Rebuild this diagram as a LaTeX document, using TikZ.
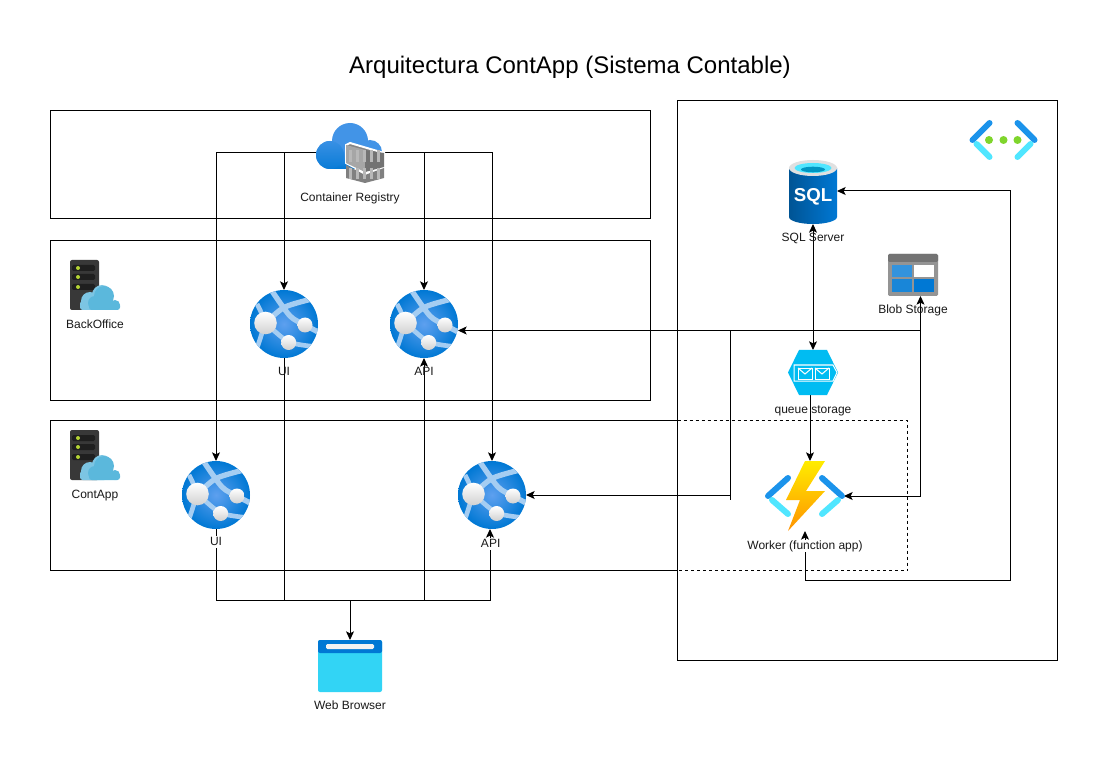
\documentclass[tikz,border=0pt]{standalone}
\usepackage{fontspec}
\setmainfont{Liberation Sans}
\usetikzlibrary{arrows.meta, positioning, backgrounds, calc}
\definecolor{azBlue}{HTML}{0078D4}
\definecolor{azMid}{HTML}{5EA0EF}
\definecolor{azSwoosh}{HTML}{A5CDF2}
\definecolor{azSky}{HTML}{1B93EB}
\definecolor{azCyan}{HTML}{50E6FF}
\definecolor{azLime}{HTML}{B4D334}
\definecolor{azGreen}{HTML}{7FD52C}
\definecolor{azQueue}{HTML}{00BCF2}
\definecolor{azBrowser}{HTML}{32D4F5}
\definecolor{azCloud}{HTML}{5BB8DC}
\definecolor{azCloudLight}{HTML}{7CC5E3}
\tikzset{
    % Frames and text
    groupbox/.style = {draw=black, line width=0.75pt, anchor=north west, inner sep=0pt, outer sep=0pt},
    caption/.style  = {font=\fontsize{9}{11}\selectfont, text=black!90, inner sep=0pt, text height=7pt, text depth=2pt},
    capfill/.style  = {caption, fill=white},
    titletext/.style = {font=\fontsize{18}{22}\selectfont, inner sep=0pt},
    % Icon places
    webicon/.style   = {minimum size=51pt, inner sep=0pt, outer sep=0pt},
    iconplace/.style 2 args = {minimum width=#1*0.75pt, minimum height=#2*0.75pt, inner sep=0pt, outer sep=0pt},
    % Edges
    wire/.style = {line width=0.75pt},
    arrow/.style = {wire, ->, >={Stealth[length=6.5pt,width=6pt,inset=1.5pt]}},
    biarrow/.style = {wire, <->, >={Stealth[length=6.5pt,width=6pt,inset=1.5pt]}},
    dashwire/.style = {wire, dash pattern=on 2.25pt off 2.25pt},
    % Icons
    pics/webapp/.style = {code={
        \shade[inner color=azMid, outer color=azBlue] (0,0) circle (34);
        \begin{scope}
            \clip (0,0) circle (34);
            \draw[azSwoosh, line width=4pt] plot[smooth] coordinates {(-12,-33) (6,-8) (21,1) (36,9)};
            \draw[azSwoosh, line width=4pt] plot[smooth] coordinates {(-18,-1) (1,-17) (36,-27)};
            \draw[azSwoosh, line width=3.5pt] plot[smooth] coordinates {(-27,-20) (-20,-1) (-28,27)};
            \draw[azSwoosh, line width=3.5pt] plot[smooth] coordinates {(-18,-1) (5,18) (36,23)};
        \end{scope}
        \shade[top color=white, middle color=white, bottom color=black!18] (-18.5,-1) circle (11.3);
        \shade[top color=white, middle color=white, bottom color=black!18] (21,1) circle (7.5);
        \shade[top color=white, middle color=white, bottom color=black!18] (4.7,18.5) circle (7.5);
    }},
    pics/brackets/.style n args = {3}{code={
        \draw[azSky, line width=4.5pt, line cap=round] (-#1,0) -- (-#2,-#3);
        \draw[azSky, line width=4.5pt, line cap=round] (#1,0) -- (#2,-#3);
        \draw[azCyan, line width=4.5pt, line cap=round] (-#1+4,4) -- (-#2,#3);
        \draw[azCyan, line width=4.5pt, line cap=round] (#1-4,4) -- (#2,#3);
    }},
    pics/server/.style = {code={
        \fill[black!78, rounded corners=1.5pt] (-25,-25) rectangle (4,25);
        \foreach \slot in {-17,-8,2} {
            \fill[black!88, rounded corners=1pt] (-23,\slot-3) rectangle (0,\slot+3);
            \fill[azLime] (-17,\slot) circle (2);
        }
        \fill[azCloudLight] (-5,16) circle (9) (7,10) circle (10);
        \fill[azCloudLight, rounded corners=2pt] (-15,25) rectangle (12,16);
        \fill[azCloud] (0,18) circle (7) (9,11) circle (10) (20,20) circle (5);
        \fill[azCloud, rounded corners=2pt] (-6,25) rectangle (25,18);
    }},
    pics/registry/.style = {code={
        \fill[azMid!70!azBlue] (-20,2) circle (14) (0,-12) circle (18) (20,-1) circle (12);
        \shade[top color=azMid!70!azBlue, bottom color=azBlue] (-20,-3) rectangle (22,16);
        \shade[top color=azMid!60!azBlue, bottom color=azBlue!90!azMid] (-20,2) circle (14);
        \filldraw[draw=white, line width=1.5pt, fill=black!48] (-4,-8) -- (0,-10) -- (34,0) -- (34,14) -- (15,20) -- (-4,10) -- cycle;
        \fill[black!50] (-4,12) -- (15,22) -- (34,15) -- (34,25) -- (15,30) -- (-4,25) -- cycle;
        \fill[black!35] (-4,-8) -- (15,-3) -- (15,19) -- (-4,10) -- cycle;
        \fill[black!55] (15,-3) -- (34,0) -- (34,14) -- (15,19) -- cycle;
        \foreach \slat in {-1,6,13,20,27} {
            \fill[black!28] (\slat,-3) rectangle (\slat+3,9);
            \fill[black!28] (\slat,15) rectangle (\slat+3,26);
        }
    }},
    pics/sqlcan/.style = {code={
        \shade[left color=azBlue!70!black, middle color=azBlue, right color=azBlue] (-24,-23) -- (-24,26) arc[start angle=180, end angle=0, x radius=24, y radius=7] -- (24,-23) -- cycle;
        \fill[black!12] (0,-23) ellipse (24 and 8);
        \fill[azCyan] (0,-23) ellipse (18.5 and 5);
        \fill[azQueue!80!black] (0,-21.5) ellipse (12 and 2.8);
        \node (sqlGlyph) [text=white, inner sep=0pt, font=\fontsize{14}{16}\selectfont\bfseries] at (0,6) {SQL};
    }},
    pics/blobgrid/.style = {code={
        \fill[black!42, rounded corners=1pt] (-25,-21) rectangle (25,21);
        \fill[black!55, rounded corners=1pt] (-25,-21) rectangle (25,-13);
        \fill[azBlue!80!white] (-21,-10) rectangle (-1,2);
        \fill[white] (1,-10) rectangle (21,2);
        \fill[azBlue!90!white] (-21,4) rectangle (-1,17);
        \fill[azBlue] (1,4) rectangle (21,17);
    }},
    pics/queuehex/.style = {code={
        \fill[azQueue] (-25,0) -- (-14,-22.5) -- (14,-22.5) -- (25,0) -- (14,22.5) -- (-14,22.5) -- cycle;
        \draw[white, line width=0.75pt] (-19,-7.5) -- (20,-7.5) -- (24,0) -- (20,8.5) -- (-19,8.5) -- cycle;
        \foreach \env in {-15,2} {
            \draw[white, line width=0.75pt] (\env,-4.5) rectangle (\env+14,6.5);
            \draw[white, line width=0.75pt] (\env,-4.5) -- (\env+7,1.5) -- (\env+14,-4.5);
        }
    }},
    pics/bolt/.style = {code={
        \shade[top color=yellow!85!orange, bottom color=orange!85!yellow] (0,-35) -- (20,-35) -- (1,-5) -- (20,-5) -- (-17,35) -- (-5,4) -- (-19,4) -- cycle;
    }},
    pics/browserwin/.style = {code={
        \fill[azBrowser, rounded corners=1.5pt] (-32,-26) rectangle (32,26);
        \fill[azBlue, rounded corners=1.5pt] (-32,-26) rectangle (32,-13);
        \fill[black!5, rounded corners=1pt] (-24,-22) rectangle (24,-17);
    }}
}
\begin{document}
\begin{tikzpicture}[x=0.75pt, y=-0.75pt]
    \useasboundingbox (0,0) rectangle (1108,763);

    \node (title) [titletext] at (570,67) {Arquitectura ContApp (Sistema Contable)};

    \coordinate (contTopLeft) at (50.5,420.5);
    \coordinate (contTopRight) at (677.5,420.5);
    \coordinate (contBotLeft) at (50.5,570.5);
    \coordinate (contBotRight) at (677.5,570.5);
    \coordinate (contDashCorner) at (907.5,570.5);

    % Icons
    \node (registry) [iconplace={68}{60}] at (350,153) {};
    \pic at (registry) {registry};
    \node (registryLabel) [caption, below=6.5pt of registry] {Container Registry};

    \node (backServer) [iconplace={50}{50}] at (95,285) {};
    \pic at (backServer) {server};
    \node (backServerLabel) [caption, below=6.5pt of backServer] {BackOffice};

    \node (contServer) [iconplace={50}{50}] at (95,455) {};
    \pic at (contServer) {server};
    \node (contServerLabel) [caption, below=6.5pt of contServer] {ContApp};

    \node (uiBack) [webicon] at (284,324) {};
    \pic at (uiBack) {webapp};
    \node (uiBackLabel) [caption, below=6pt of uiBack] {UI};

    \node (apiBack) [webicon] at (424,324) {};
    \pic at (apiBack) {webapp};
    \node (apiBackLabel) [caption, below=6pt of apiBack] {API};

    \node (uiCont) [webicon] at (216,495) {};
    \pic at (uiCont) {webapp};
    \node (uiContLabel) [capfill, below=5pt of uiCont] {UI};

    \node (apiCont) [webicon] at (492,495) {};
    \pic at (apiCont) {webapp};
    \node (apiContLabel) [capfill, xshift=-1pt, below=6.5pt of apiCont] {API};

    \node (browser) [iconplace={64}{52}] at (350,666) {};
    \pic at (browser) {browserwin};
    \node (browserLabel) [caption, below=6pt of browser] {Web Browser};

    \node (netIcon) [iconplace={68}{40}] at (1003.5,140) {};
    \pic at (netIcon) {brackets={31}{14}{17}};
    \foreach \dot in {-14.5,0,14} {
        \fill[azGreen] ($(netIcon)+(\dot,0)$) circle (4);
    }

    \node (sql) [iconplace={48}{66}] at (813,191) {};
    \pic at (sql) {sqlcan};
    \node (sqlLabel) [caption, below=6pt of sql] {SQL Server};

    \node (blob) [iconplace={50}{42}] at (913,275) {};
    \pic at (blob) {blobgrid};
    \node (blobLabel) [caption, below=6pt of blob] {Blob Storage};

    \node (queue) [iconplace={50}{45}] at (813,372.5) {};
    \pic at (queue) {queuehex};
    \node (queueLabel) [caption, below=6.5pt of queue] {queue storage};

    \node (worker) [iconplace={78}{70}] at (805,496) {};
    \pic at (worker) {brackets={37}{17}{18}};
    \pic at (worker) {bolt};
    \node (workerLabel) [capfill, below=6.5pt of worker] {Worker (function app)};

    \begin{scope}[on background layer]
        \fill[white] (0,0) rectangle (1108,763);
        \node (registryGroup) [groupbox, minimum width=450pt, minimum height=81pt] at (50.5,110.5) {};
        \node (backGroup) [groupbox, minimum width=450pt, minimum height=120pt] at (50.5,240.5) {};
        \node (netGroup) [groupbox, minimum width=285pt, minimum height=420pt] at (677.5,100.5) {};

        % Frame of the ContApp group
        \draw [wire] (contTopRight) -- (contTopLeft) -- (contBotLeft) -- (contBotRight);
        \draw [dashwire] (contTopRight) -| (contDashCorner) -- (contBotRight);

        % From the registry
        \draw [arrow] (registry) -| (uiCont);
        \draw [arrow] (registry) -| (uiBack);
        \draw [arrow] (registry) -| (apiBack);
        \draw [arrow] (registry) -| (apiCont);

        % To the browser
        \coordinate (webBus) at (350,600.5);
        \draw [wire] (uiCont) |- (webBus);
        \draw [wire] (uiBack) -- (uiBack |- webBus);
        \draw [arrow] (webBus) -- (browser);
        \draw [arrow] (apiBack |- webBus) -- (apiBack);
        \draw [arrow] (webBus) -| ($(apiCont.south)+(-2,0)$);

        % Network side
        \coordinate (midBus) at (730.5,330.5);
        \coordinate (blobJoin) at (920.5,330.5);
        \draw [wire] (midBus) -- (blobJoin);
        \draw [arrow] (midBus) -- (apiBack.east |- midBus);
        \draw [wire] (midBus) -- ++(0,169);
        \draw [arrow] (midBus |- apiCont) -- (apiCont.east);
        \draw [arrow] (blobJoin) -- (blobJoin |- blob.south);
        \draw [arrow] (blobJoin) |- (worker.east);
        \draw [biarrow] (sql) -- (queue);
        \draw [arrow] ($(queue.south)+(-3,0)$) -- ($(worker.north)+(5,0)$);

        \coordinate (workerTurn) at (1010.5,580.5);
        \draw [biarrow] (worker.south) |- (workerTurn) |- (sql.east);
    \end{scope}
\end{tikzpicture}
\end{document}
